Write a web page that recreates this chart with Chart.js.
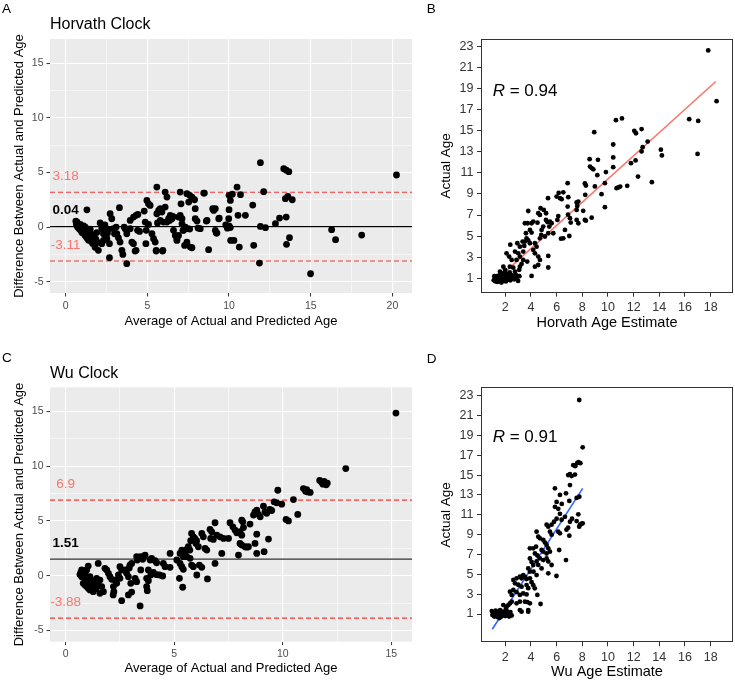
<!DOCTYPE html>
<html>
<head>
<meta charset="utf-8">
<title>Horvath and Wu clocks</title>
<script src="https://cdn.jsdelivr.net/npm/chart.js@4"></script>
<style>
  body { margin: 0; background: #fff; }
  #page { position: relative; width: 735px; height: 681px; overflow: hidden; }
  canvas { position: absolute; }
</style>
</head>
<body>
<div id="page">
  <canvas id="chartA" width="420" height="335" style="left:0;top:0"></canvas>
  <canvas id="chartB" width="315" height="335" style="left:420px;top:0"></canvas>
  <canvas id="chartC" width="420" height="346" style="left:0;top:335px"></canvas>
  <canvas id="chartD" width="315" height="333" style="left:420px;top:348px"></canvas>
</div>
<script>
const FONT = '"Liberation Sans", Arial, sans-serif'

// A - Bland-Altman, Horvath clock: [average, difference]
const horvathBA = [
  [0.62,0.55],[0.65,0.30],[0.70,0.10],[0.75,-0.05],[0.80,0.20],[0.85,-0.20],[0.90,-0.10],[0.95,-0.35],
  [1.00,0.05],[1.00,-0.50],[1.05,-0.25],[1.10,-0.60],[1.10,0.10],[1.15,-0.40],[1.20,-0.80],[1.25,-0.15],
  [1.25,-0.55],[1.30,-1.00],[1.35,-0.70],[1.40,-0.30],[1.40,-1.20],[1.45,-0.90],[1.50,-0.50],[1.55,-1.30],
  [1.60,-1.10],[1.60,-0.70],[1.65,-1.50],[1.70,-0.90],[1.75,-1.30],[1.80,-1.60],[1.85,-1.10],[1.90,-0.50],
  [1.30,1.58],[1.80,-1.85],[1.95,-1.40],[0.70,0.45],[0.90,0.25],[1.20,0.00],[1.50,-0.20],
  [2.11,0.37],[2.21,-0.15],[2.31,-0.61],[2.52,-1.07],[2.68,-1.52],[2.00,-2.13],[2.72,1.22],[2.82,0.76],
  [2.68,-2.80],[2.92,-0.15],[3.13,-0.61],[3.23,-0.98],[3.33,-1.37],[3.44,-2.13],[3.29,1.77],[3.50,-2.50],
  [3.74,-3.35],[3.64,-0.15],[3.74,-0.61],[3.95,-0.15],[4.05,-1.37],[4.15,-1.52],[4.31,-2.13],[3.95,0.61],
  [4.15,0.91],[4.31,1.07],[4.42,1.16],[4.97,2.44],[5.07,2.13],[5.17,1.98],[4.87,0.46],[5.07,0.24],
  [4.93,-0.30],[5.28,-0.61],[5.38,-1.07],[5.48,-1.37],[5.54,-2.13],[5.58,3.66],[5.58,1.22],[5.69,1.52],
  [5.79,1.68],[5.89,1.37],[6.09,1.83],[6.09,3.20],[6.20,2.74],[5.79,0.61],[5.99,0.46],[5.95,-2.13],
  [6.20,0.46],[6.30,0.76],[6.40,1.07],[6.56,0.91],[6.60,-0.30],[6.71,-0.76],[6.81,-1.07],[7.01,3.20],
  [7.06,2.13],[6.91,0.91],[7.12,0.30],[7.22,-0.30],[7.32,0.00],[7.42,3.05],[7.59,2.90],[7.73,2.74],
  [7.93,1.68],[7.53,2.29],[7.48,-0.15],[7.63,-1.83],[7.93,0.76],[8.10,-0.09],[8.49,3.11],[8.65,0.61],
  [8.75,-2.07],[9.06,1.52],[9.16,1.68],[9.16,-0.30],[9.40,0.82],[9.26,-0.55],[9.80,0.20],[9.90,-0.10],
  [10.00,0.10],[10.08,-0.05],[9.98,0.77],[10.00,1.59],[10.08,2.44],[10.00,2.90],[10.20,3.00],[10.49,3.66],
  [10.70,2.96],[10.55,1.07],[11.00,1.07],[11.45,2.01],[10.10,-1.22],[10.30,-1.22],[10.63,-1.83],[11.51,-1.67],
  [11.92,5.89],[12.12,3.24],[11.92,0.06],[12.23,-0.06],[11.86,-3.29],[12.84,0.31],[13.09,0.82],[13.35,5.34],
  [13.50,5.20],[13.66,5.07],[13.45,2.60],[13.60,2.80],[13.87,2.50],[13.50,0.91],[13.70,-0.97],[13.52,-1.58],
  [14.99,-4.27],[16.28,-0.24],[16.52,-1.15],[18.12,-0.73],[20.25,4.76],
  [4.91,-1.52],[5.54,-2.20],[5.93,-2.20],[7.42,-1.37],[7.28,-1.68],[6.81,-1.22],[7.73,-1.89],[8.24,-0.15],
  [8.61,0.55],[9.22,-0.55],[9.37,0.76],[9.00,1.68],[8.45,3.11],[7.89,2.50],[8.04,0.55],
  [4.25,-2.20],[3.58,0.00],[3.78,-0.30],[4.40,-0.30],[4.52,-0.40],[4.81,1.46],[5.62,0.37],[5.75,1.52],
  [6.36,0.61],[6.50,0.76],[6.56,0.98],[6.91,-0.76],[7.01,1.07],[7.12,0.76],[7.18,-0.30],[7.59,-0.18],
  [2.99,-0.61],[3.09,0.00],[2.21,-1.52],[2.31,-1.22],[2.47,-0.91],[2.56,-0.55],[2.40,0.20],[2.60,-0.20]
]
const horvathLimits = [3.18, 0.04, -3.11]

// B - Horvath age estimate vs actual age
const horvathCor = [
  [17.81,22.62],[18.46,17.80],[16.33,16.09],[17.03,15.93],[16.98,12.80],[10.62,16.00],[11.09,16.16],[8.93,14.86],
  [12.05,14.99],[12.18,14.76],[12.62,15.15],[13.09,13.97],[14.12,13.20],[14.20,12.65],[10.41,13.69],[12.70,13.44],
  [12.62,13.03],[8.57,12.30],[9.22,12.24],[10.41,12.46],[12.15,12.18],[11.79,11.92],[8.60,11.60],[8.73,11.45],
  [8.86,11.34],[10.41,11.54],[9.17,10.78],[9.84,11.07],[12.34,10.65],[13.42,10.12],[8.20,10.00],[8.28,9.80],
  [8.98,9.71],[9.76,10.02],[10.67,9.55],[10.81,9.62],[10.95,9.70],[11.50,9.77],[6.86,10.02],[9.50,8.98],
  [9.76,7.74],[8.23,8.92],[7.69,8.28],[7.61,7.86],[7.56,7.48],[8.07,7.40],[8.20,6.53],[8.28,6.46],
  [8.73,6.75],[6.16,9.10],[6.52,9.15],[6.00,8.75],[5.33,8.60],[6.91,8.69],[6.26,8.60],[6.39,8.50],
  [6.86,7.80],[7.56,8.19],[6.89,7.03],[7.04,6.70],[6.13,6.90],[6.06,6.53],[7.56,6.53],[7.69,6.22],
  [7.10,6.28],[6.99,5.01],[6.52,4.79],[6.34,4.76],[6.65,5.59],[5.48,6.38],[5.61,6.22],[5.43,5.90],
  [5.74,5.27],[4.75,7.64],[5.00,7.48],[5.18,7.17],[4.57,7.17],[4.70,7.01],[5.17,6.53],[5.30,6.32],
  [4.96,5.90],[4.83,5.59],[4.80,5.11],[5.09,4.96],[5.35,5.27],[4.51,6.27],[3.79,7.38],[3.74,6.22],
  [4.05,6.22],[3.53,6.22],[4.18,6.38],[3.92,5.59],[4.05,5.33],[3.61,5.27],[3.66,4.79],[3.79,4.60],
  [3.92,4.32],[3.53,4.48],[4.70,4.79],[4.31,4.32],[4.44,4.00],[4.18,3.69],[4.31,3.37],[4.57,3.06],
  [4.70,2.74],[4.31,2.10],[4.57,2.26],[5.35,3.12],[5.35,2.02],[4.05,1.22],[3.35,4.48],[3.48,4.07],
  [2.94,4.32],[3.14,4.00],[2.76,3.53],[3.01,3.37],[3.40,3.53],[2.39,4.19],[2.10,3.37],[2.30,3.06],
  [2.50,2.74],[3.14,3.06],[2.88,2.74],[3.40,2.74],[3.27,2.36],[2.36,2.10],[2.62,2.00],[2.76,1.63],
  [3.14,2.10],[3.09,1.80],[1.85,2.10],[1.98,1.80],[1.59,1.63],[1.85,1.47],[3.71,2.58],[2.89,1.25],
  [1.10,0.80],[1.20,1.00],[1.25,0.70],[1.30,1.20],[1.35,0.90],[1.40,0.65],[1.45,1.10],[1.50,0.80],
  [1.55,1.30],[1.60,0.95],[1.65,0.70],[1.70,1.15],[1.75,0.85],[1.80,1.40],[1.85,0.75],[1.90,1.05],
  [1.95,0.90],[2.00,1.25],[2.05,0.70],[2.10,1.00],[2.15,1.40],[2.20,0.85],[2.30,1.15],[2.40,0.80],
  [2.50,1.30],[2.60,1.00],[2.70,0.90],[2.80,1.35],[2.90,1.10],[3.00,0.75],[3.10,1.20],[2.35,1.55],
  [2.00,1.60],[1.15,1.20],[1.70,0.60]
]
const horvathFit = [[1.07, 0.58], [18.4, 19.67]]
const horvathR = '0.94'

// C - Bland-Altman, Wu clock: [average, difference]
const wuBA = [
  [15.21,14.85],[12.90,9.78],[11.70,8.70],[11.80,8.50],[11.90,8.60],[12.00,8.30],[11.85,8.35],[12.05,8.45],
  [10.95,7.95],[11.10,7.85],[11.15,7.65],[11.26,7.60],[11.05,7.70],[10.49,6.95],[10.69,5.59],[10.15,5.13],
  [10.26,5.00],[9.77,7.80],[9.95,6.53],[9.60,6.74],[9.72,6.65],[9.18,5.83],[9.26,5.70],[9.40,6.04],
  [9.49,5.95],[9.11,6.34],[8.80,5.98],[8.88,5.60],[8.96,5.37],[8.72,5.83],[8.65,5.53],[8.49,4.71],
  [8.11,5.07],[8.16,4.92],[8.19,4.40],[8.80,3.79],[9.34,3.34],[8.72,2.94],[8.80,2.03],[9.14,2.19],
  [8.26,2.64],[8.34,2.60],[8.42,2.64],[8.03,2.94],[8.11,2.79],[7.96,1.88],[8.03,4.01],[8.11,3.70],
  [7.80,4.16],[7.88,3.92],[7.57,4.83],[7.70,4.46],[7.50,3.40],[7.27,3.40],[7.11,3.55],[6.96,3.70],
  [6.88,4.83],[6.65,4.22],[6.73,4.00],[6.68,3.40],[6.80,3.31],[7.19,2.03],[6.88,1.12],[6.27,3.86],
  [6.34,3.55],[6.00,2.94],[6.11,2.64],[6.42,2.49],[6.50,2.34],[5.80,3.86],[5.88,3.55],[5.95,3.40],
  [5.76,3.19],[6.03,3.19],[5.65,2.64],[5.72,2.34],[5.58,2.40],[5.35,2.34],[5.42,2.09],[5.27,2.03],
  [5.50,2.00],[5.42,1.73],[5.58,1.73],[5.73,1.58],[5.12,1.43],[5.27,1.12],[5.35,0.82],[5.42,0.58],
  [5.80,0.97],[5.88,0.82],[6.16,0.97],[6.27,0.76],[6.04,0.06],[6.53,-0.30],[5.24,-0.24],[5.39,-1.06],
  [4.81,2.03],[4.81,0.76],[4.50,1.12],[4.58,0.82],[4.12,1.37],[4.19,1.18],[3.96,1.58],[3.89,1.43],
  [4.47,-0.03],[4.32,0.06],[4.19,0.09],[3.81,0.52],[3.92,0.06],[4.04,0.30],[3.73,-0.24],[3.81,-0.46],
  [3.73,-1.00],[3.76,-1.37],[3.43,-2.76],[3.45,1.73],[3.55,1.50],[3.62,1.80],[3.66,1.88],[3.27,1.73],
  [3.30,1.43],[3.46,0.52],[3.20,-0.24],[3.27,-0.55],[2.96,0.97],[3.04,1.12],[2.93,0.70],[2.89,-0.10],
  [3.00,-0.70],[3.04,-1.50],[2.89,-1.76],[2.81,0.21],[2.73,0.52],[2.58,-2.28],[2.50,0.82],[2.58,0.52],
  [2.43,0.06],[2.50,-0.24],[2.27,-0.40],[2.35,-0.70],[2.22,-1.46],[2.19,-1.76],[2.04,-0.10],[2.12,-0.33],
  [1.89,0.52],[1.81,0.67],[1.97,0.21],[2.20,-1.00],[1.58,-0.40],[1.66,-1.00],[1.74,-1.46],[1.58,-1.61],
  [1.50,1.12],[1.43,-0.24],[1.35,-0.70],[1.27,-1.00],[1.12,-0.10],[1.20,-0.40],[1.04,-0.70],[1.04,0.88],
  [0.97,0.52],[0.89,0.21],[0.81,0.24],[0.74,0.52],[0.66,0.10],[0.74,-0.10],[0.81,-0.70],[0.89,-0.85],
  [0.97,-1.00],[1.04,-1.15],[1.12,-1.30],[1.27,-1.46],[0.70,0.30],[0.90,-0.30],[1.00,-0.50],[1.15,-0.80],
  [1.30,-0.50],[1.40,-1.20],[1.50,-0.90]
]
const wuLimits = [6.9, 1.51, -3.88]

// D - Wu age estimate vs actual age
const wuCor = [
  [7.76,22.57],[8.03,17.80],[7.60,16.20],[7.70,16.30],[7.85,16.20],[7.45,15.90],[7.30,16.00],[6.90,15.00],
  [7.04,15.10],[7.17,14.90],[7.43,15.05],[7.04,14.00],[5.87,13.67],[6.73,13.16],[6.26,13.00],[6.40,12.10],
  [6.00,12.30],[5.87,11.80],[6.13,11.60],[6.99,12.40],[7.56,12.70],[7.69,11.05],[7.95,10.10],[7.82,10.00],
  [7.56,10.37],[7.20,10.60],[7.04,10.30],[6.90,9.70],[6.77,9.50],[6.99,8.90],[6.26,11.10],[6.65,10.80],
  [6.39,10.50],[6.00,10.60],[5.80,10.30],[5.61,10.00],[5.22,10.00],[5.35,9.80],[5.48,9.30],[5.61,9.00],
  [6.13,9.30],[6.26,9.13],[6.20,7.45],[6.73,6.44],[5.99,4.83],[5.35,5.10],[4.75,2.01],[4.44,9.30],
  [4.57,8.80],[4.70,8.63],[4.96,8.46],[5.09,8.20],[5.22,7.96],[5.35,7.62],[5.48,7.28],[5.22,7.10],
  [4.83,7.45],[4.96,7.28],[3.92,7.62],[4.18,7.62],[4.40,7.79],[4.31,7.10],[4.50,6.90],[4.70,6.60],
  [4.96,6.44],[4.44,6.30],[4.57,5.95],[4.83,5.60],[5.22,6.60],[5.35,6.30],[5.61,5.94],[3.92,6.60],
  [4.05,6.25],[4.18,5.94],[3.79,5.60],[3.92,5.27],[4.20,5.27],[4.44,4.93],[3.92,4.60],[4.18,3.90],
  [4.05,4.20],[3.40,4.93],[3.53,4.75],[3.66,4.53],[4.30,3.59],[4.50,2.92],[3.14,4.76],[3.27,4.60],
  [2.88,4.60],[2.63,4.43],[2.76,4.09],[3.01,3.95],[3.27,3.76],[3.66,3.92],[3.79,3.60],[2.63,3.42],
  [2.88,3.20],[3.14,2.92],[2.37,3.25],[2.50,2.92],[3.40,3.08],[3.66,2.98],[3.53,2.24],[3.72,2.20],
  [3.92,2.08],[3.14,2.24],[2.88,2.08],[2.50,2.24],[2.37,2.08],[2.24,1.90],[1.85,1.90],[2.10,1.74],
  [3.14,1.40],[3.27,1.24],[3.79,1.40],[3.79,1.24],
  [0.95,1.30],[1.00,0.90],[1.10,1.10],[1.15,0.75],[1.25,1.35],[1.30,0.95],[1.40,0.70],[1.45,1.20],
  [1.50,0.85],[1.60,1.40],[1.65,1.00],[1.70,0.75],[1.80,1.25],[1.85,0.90],[1.95,1.10],[2.00,0.80],
  [2.10,1.35],[2.20,1.00],[2.30,0.75],[2.40,1.20],[2.50,0.85],[1.20,1.00],[1.55,0.60],[2.05,1.50],
  [7.77,12.82],[8.03,10.14],[7.76,9.80]
]
const wuFit = [[0.99, -0.54], [8.03, 13.67]]
const wuR = '0.91'

// ticks
const baTicksY = [-5, -2.5, 0, 2.5, 5, 7.5, 10, 12.5, 15]
const baTicksXA = [0, 2.5, 5, 7.5, 10, 12.5, 15, 17.5, 20]
const baTicksXC = [0, 2.5, 5, 7.5, 10, 12.5, 15]
const corTicksX = [2, 4, 6, 8, 10, 12, 14, 16, 18]
const corTicksY = [1, 3, 5, 7, 9, 11, 13, 15, 17, 19, 21, 23]

// draws grey panel, box, free text and the R label
const panelText = {
  id: 'panelText',
  beforeDraw(chart, args, opts) {
    if (!opts.grey) return
    const { ctx, chartArea: a } = chart
    ctx.save()
    ctx.fillStyle = '#EBEBEB'
    ctx.fillRect(a.left, a.top, a.width, a.height)
    ctx.restore()
  },
  afterDraw(chart, args, opts) {
    const { ctx, chartArea: a, scales } = chart
    ctx.save()
    if (opts.box) {
      ctx.strokeStyle = '#333'
      ctx.lineWidth = 1
      ctx.strokeRect(Math.round(a.left) + 0.5, Math.round(a.top) + 0.5, Math.round(a.width) - 1, Math.round(a.height) - 1)
    }
    for (const t of opts.items || []) {
      const x = t.data ? scales.x.getPixelForValue(t.x) : t.x
      const y = t.data ? scales.y.getPixelForValue(t.y) : t.y
      ctx.font = t.font
      ctx.fillStyle = t.color || '#000'
      ctx.textAlign = t.align || 'left'
      ctx.textBaseline = t.baseline || 'alphabetic'
      ctx.fillText(t.text, x, y)
    }
    if (opts.r) {
      let x = scales.x.getPixelForValue(opts.r.x)
      const y = scales.y.getPixelForValue(opts.r.y)
      ctx.fillStyle = '#000'
      ctx.textAlign = 'left'
      ctx.textBaseline = 'alphabetic'
      ctx.font = 'italic 17px ' + FONT
      ctx.fillText('R', x, y)
      x += ctx.measureText('R').width
      ctx.font = '17px ' + FONT
      ctx.fillText(' = ' + opts.r.value, x, y)
    }
    ctx.restore()
  }
}
Chart.register(panelText)

const isMajor = c => c.tick && c.tick.value % 5 === 0

function greyAxis(min, max, ticks, size, title, titlePad) {
  return {
    type: 'linear', min, max,
    afterBuildTicks: s => { s.ticks = ticks.map(v => ({ value: v })) },
    afterFit: s => { if (s.isHorizontal()) s.height = size; else s.width = size },
    ticks: {
      autoSkip: false, maxRotation: 0, padding: 3, color: '#4D4D4D',
      font: { family: FONT, size: 10.5 },
      callback: v => v % 5 === 0 ? String(v) : ''
    },
    grid: {
      color: '#fff', drawTicks: true, tickLength: 3.5,
      lineWidth: c => isMajor(c) ? 1.1 : 0.55,
      tickColor: c => isMajor(c) ? '#333' : 'rgba(0,0,0,0)',
      tickWidth: 1
    },
    border: { display: false },
    title: { display: true, text: title, color: '#000', font: { family: FONT, size: 13 }, padding: titlePad }
  }
}

function boxAxis(min, max, ticks, size, title, titleSize, titlePad) {
  return {
    type: 'linear', min, max,
    afterBuildTicks: s => { s.ticks = ticks.map(v => ({ value: v })) },
    afterFit: s => { if (s.isHorizontal()) s.height = size; else s.width = size },
    ticks: { autoSkip: false, maxRotation: 0, padding: 3.5, color: '#333', font: { family: FONT, size: 12.5 } },
    grid: { drawOnChartArea: false, drawTicks: true, tickLength: 4, tickColor: '#333', tickWidth: 1 },
    border: { display: false },
    title: { display: true, text: title, color: '#000', font: { family: FONT, size: titleSize }, padding: titlePad }
  }
}

function points(arr, r) {
  return { data: arr.map(([x, y]) => ({ x, y })), backgroundColor: '#000', borderWidth: 0, pointRadius: r, order: 0, clip: false }
}

function limitLines(limits, xMin, xMax, meanColor) {
  return limits.map((v, i) => ({
    data: [{ x: xMin, y: v }, { x: xMax, y: v }],
    showLine: true, pointRadius: 0, order: 1,
    borderColor: i === 1 ? meanColor : 'rgba(238,34,34,0.9)',
    borderWidth: 1.1,
    borderDash: i === 1 ? [] : [5, 3]
  }))
}

function limitLabels(limits) {
  return limits.map((v, i) => ({
    text: String(v), x: 0, y: v + 1.45, data: true, align: 'center', baseline: 'middle',
    color: i === 1 ? '#000' : '#F8766D',
    font: (i === 1 ? 'bold ' : '') + '13.5px ' + FONT
  }))
}

const common = { responsive: false, animation: false, devicePixelRatio: 1, events: [] }

function baChart(id, data, limits, xMin, xMax, xTicks, pad, xHeight, xTitlePad, meanColor, letter, title, letterY, titleY) {
  return new Chart(document.getElementById(id), {
    type: 'scatter',
    data: { datasets: [points(data, 3.4), ...limitLines(limits, xMin, xMax, meanColor)] },
    options: {
      ...common,
      layout: { autoPadding: false, padding: pad },
      scales: {
        x: greyAxis(xMin, xMax, xTicks, xHeight, 'Average of Actual and Predicted Age', { top: 0, bottom: xTitlePad }),
        y: greyAxis(-6.03, 17.2, baTicksY, 50, 'Difference Between Actual and Predicted Age', { top: 11.7, bottom: 0 })
      },
      plugins: {
        legend: { display: false }, tooltip: { enabled: false },
        panelText: {
          grey: true,
          items: [
            { text: letter, x: 2, y: letterY, font: '13.5px ' + FONT },
            { text: title, x: 50, y: titleY, font: '16px ' + FONT },
            ...limitLabels(limits)
          ]
        }
      }
    }
  })
}

function corChart(id, data, fit, fitColor, yMin, yMax, pad, xHeight, xTitle, xTitlePad, letter, letterY, r) {
  return new Chart(document.getElementById(id), {
    type: 'scatter',
    data: {
      datasets: [
        points(data, 2.4),
        { data: fit.map(([x, y]) => ({ x, y })), showLine: true, pointRadius: 0, borderColor: fitColor, borderWidth: 1.6, order: 1 }
      ]
    },
    options: {
      ...common,
      layout: { autoPadding: false, padding: pad },
      scales: {
        x: boxAxis(0.11, 19.74, corTicksX, xHeight, xTitle, 14.5, { top: 0, bottom: xTitlePad }),
        y: boxAxis(yMin, yMax, corTicksY, 61, 'Actual Age', 13.5, { top: 18.6, bottom: 0 })
      },
      plugins: {
        legend: { display: false }, tooltip: { enabled: false },
        panelText: {
          box: true,
          items: [{ text: letter, x: 6.7, y: letterY, font: '13.5px ' + FONT }],
          r: { x: 1.02, y: 18.3, value: r }
        }
      }
    }
  })
}

baChart('chartA', horvathBA, horvathLimits, -0.96, 21.2, baTicksXA,
  { top: 39, right: 8, left: 0, bottom: 0 }, 42, 6.2, '#000', 'A', 'Horvath Clock', 12.7, 29)
corChart('chartB', horvathCor, horvathFit, '#F8766D', -0.37, 23.7,
  { top: 39, right: 2, left: 0, bottom: 0 }, 42.3, 'Horvath Age Estimate', 3.3, 'B', 13.3, horvathR)
baChart('chartC', wuBA, wuLimits, -0.72, 15.95, baTicksXC,
  { top: 52.3, right: 8, left: 0, bottom: 0 }, 39.3, 4.4, '#333', 'C', 'Wu Clock', 26.7, 43.3)
corChart('chartD', wuCor, wuFit, '#3366FF', -1.85, 23.85,
  { top: 39.3, right: 2, left: 0, bottom: 0 }, 38.7, 'Wu Age Estimate', 0.5, 'D', 15, wuR)
</script>
</body>
</html>
